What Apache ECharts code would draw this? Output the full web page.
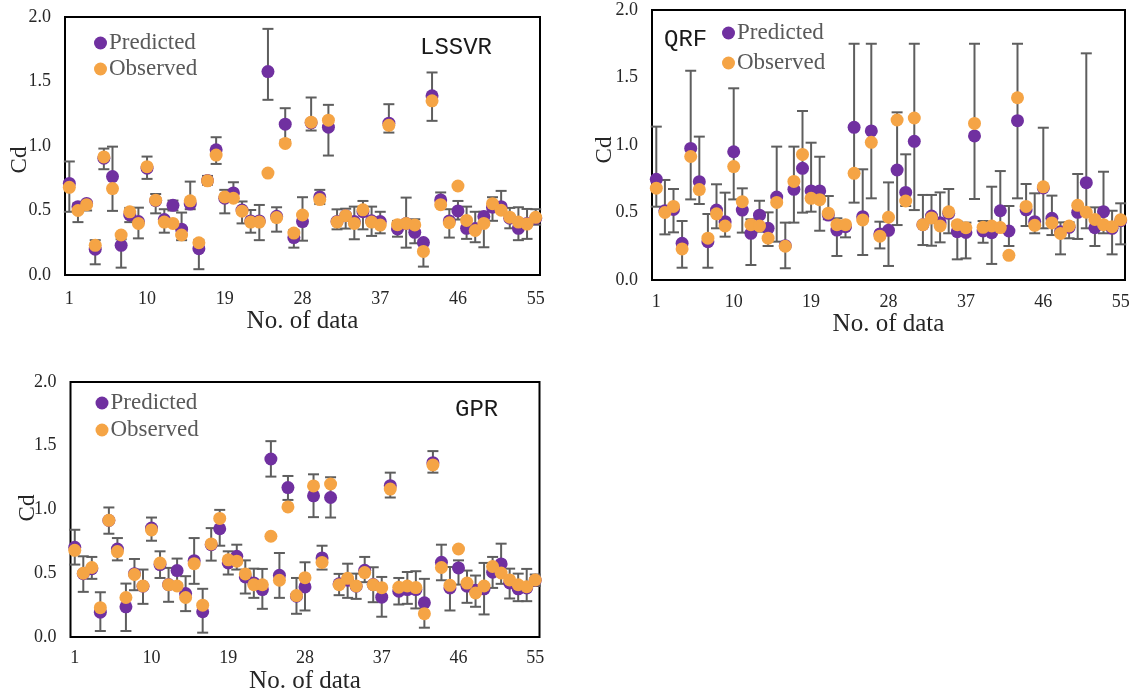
<!DOCTYPE html>
<html>
<head>
<meta charset="utf-8">
<title>Cd: predicted vs observed</title>
<script src="https://cdn.jsdelivr.net/npm/echarts@6/dist/echarts.min.js"></script>
<style>
  html, body { margin: 0; padding: 0; background: #fff; }
  #chart { width: 1133px; height: 695px; }
</style>
</head>
<body>
<div id="chart"></div>
<script>
// ---- data -------------------------------------------------------------
const xTickValues = [1, 10, 19, 28, 37, 46, 55];
const yTickValues = [0, 0.5, 1.0, 1.5, 2.0];

// measured discharge coefficient (same for every model)
const observed = [0.68, 0.50, 0.545, 0.23, 0.915, 0.67, 0.31, 0.49, 0.40, 0.84,
  0.58, 0.41, 0.40, 0.31, 0.575, 0.25, 0.73, 0.93, 0.605, 0.595,
  0.495, 0.41, 0.41, 0.79, 0.445, 1.02, 0.325, 0.465, 1.185, 0.585,
  1.20, 0.41, 0.46, 0.40, 0.505, 0.41, 0.387, 1.16, 0.39, 0.40,
  0.388, 0.183, 1.35, 0.545, 0.405, 0.69, 0.423, 0.345, 0.40, 0.553,
  0.502, 0.448, 0.41, 0.395, 0.447];

// LSSVR
const lssvrPred = [0.71, 0.53, 0.555, 0.20, 0.905, 0.763, 0.23, 0.465, 0.414, 0.828,
  0.577, 0.43, 0.54, 0.355, 0.55, 0.204, 0.732, 0.97, 0.595, 0.636,
  0.504, 0.419, 0.419, 1.577, 0.455, 1.169, 0.29, 0.414, 1.18, 0.605,
  1.146, 0.415, 0.46, 0.414, 0.491, 0.42, 0.414, 1.177, 0.357, 0.40,
  0.331, 0.251, 1.389, 0.582, 0.419, 0.497, 0.362, 0.36, 0.453, 0.525,
  0.53, 0.44, 0.362, 0.40, 0.44];
const lssvrLow = [0.49, 0.41, 0.50, 0.083, 0.82, 0.497, 0.057, 0.41, 0.284, 0.745,
  0.478, 0.328, 0.50, 0.27, 0.51, 0.045, 0.70, 0.861, 0.478, 0.57,
  0.40, 0.328, 0.27, 1.358, 0.336, 1.047, 0.212, 0.266, 1.12, 0.55,
  0.926, 0.354, 0.36, 0.277, 0.354, 0.303, 0.323, 1.104, 0.297, 0.212,
  0.246, 0.065, 1.195, 0.53, 0.29, 0.43, 0.28, 0.254, 0.215, 0.42,
  0.49, 0.362, 0.27, 0.28, 0.39];
const lssvrHigh = [0.88, 0.556, 0.57, 0.27, 0.98, 0.995, 0.277, 0.52, 0.522, 0.918,
  0.628, 0.51, 0.577, 0.484, 0.724, 0.27, 0.768, 1.068, 0.66, 0.719,
  0.57, 0.504, 0.543, 1.908, 0.525, 1.293, 0.348, 0.603, 1.376, 0.66,
  1.319, 0.509, 0.514, 0.53, 0.574, 0.53, 0.49, 1.324, 0.419, 0.60,
  0.432, 0.271, 1.57, 0.64, 0.51, 0.574, 0.53, 0.49, 0.49, 0.603,
  0.652, 0.52, 0.525, 0.512, 0.51];

// QRF
const qrfPred = [0.746, 0.513, 0.523, 0.272, 0.975, 0.728, 0.284, 0.518, 0.432, 0.95,
  0.518, 0.346, 0.48, 0.383, 0.615, 0.254, 0.672, 0.827, 0.66, 0.66,
  0.481, 0.37, 0.395, 1.131, 0.469, 1.104, 0.341, 0.368, 0.815, 0.649,
  1.027, 0.41, 0.474, 0.425, 0.494, 0.358, 0.352, 1.067, 0.363, 0.35,
  0.513, 0.363, 1.18, 0.52, 0.432, 0.682, 0.457, 0.358, 0.39, 0.501,
  0.721, 0.387, 0.506, 0.383, 0.439];
const qrfLow = [0.543, 0.338, 0.353, 0.091, 0.597, 0.563, 0.091, 0.383, 0.321, 0.597,
  0.351, 0.111, 0.358, 0.252, 0.284, 0.087, 0.425, 0.499, 0.506, 0.365,
  0.45, 0.178, 0.316, 0.573, 0.185, 0.605, 0.234, 0.104, 0.407, 0.548,
  0.518, 0.259, 0.254, 0.279, 0.346, 0.153, 0.16, 0.60, 0.276, 0.119,
  0.39, 0.252, 0.605, 0.40, 0.346, 0.383, 0.333, 0.19, 0.309, 0.304,
  0.383, 0.252, 0.346, 0.19, 0.264];
const qrfHigh = [1.136, 0.741, 0.674, 0.437, 1.55, 1.062, 0.489, 0.709, 0.647, 1.42,
  0.679, 0.45, 0.587, 0.501, 0.988, 0.425, 0.988, 1.252, 1.017, 0.913,
  0.622, 0.457, 0.43, 1.75, 0.82, 1.75, 0.432, 0.723, 1.242, 0.931,
  1.75, 0.63, 0.63, 0.649, 0.674, 0.432, 0.425, 1.75, 0.437, 0.691,
  0.807, 0.548, 1.75, 0.711, 0.642, 1.128, 0.625, 0.427, 0.427, 0.785,
  1.679, 0.538, 0.802, 0.513, 0.568];

// GPR
const gprPred = [0.703, 0.497, 0.536, 0.195, 0.914, 0.69, 0.237, 0.497, 0.398, 0.854,
  0.568, 0.411, 0.521, 0.341, 0.599, 0.198, 0.724, 0.849, 0.581, 0.633,
  0.471, 0.424, 0.372, 1.396, 0.484, 1.172, 0.32, 0.393, 1.107, 0.62,
  1.094, 0.417, 0.445, 0.398, 0.523, 0.411, 0.312, 1.187, 0.359, 0.372,
  0.372, 0.268, 1.367, 0.586, 0.385, 0.542, 0.398, 0.367, 0.378, 0.508,
  0.573, 0.424, 0.378, 0.385, 0.445];
const gprLow = [0.568, 0.354, 0.456, 0.047, 0.81, 0.601, 0.047, 0.367, 0.26, 0.755,
  0.463, 0.276, 0.42, 0.203, 0.417, 0.034, 0.599, 0.716, 0.49, 0.529,
  0.341, 0.307, 0.221, 1.258, 0.307, 1.075, 0.182, 0.208, 0.94, 0.529,
  0.937, 0.328, 0.307, 0.299, 0.43, 0.273, 0.159, 1.094, 0.255, 0.26,
  0.224, 0.073, 1.289, 0.445, 0.208, 0.411, 0.268, 0.237, 0.177, 0.385,
  0.417, 0.302, 0.281, 0.281, 0.40];
const gprHigh = [0.841, 0.633, 0.628, 0.351, 1.016, 0.776, 0.419, 0.612, 0.529, 0.937,
  0.672, 0.542, 0.615, 0.477, 0.776, 0.378, 0.854, 0.997, 0.672, 0.724,
  0.601, 0.536, 0.534, 1.536, 0.659, 1.263, 0.463, 0.586, 1.276, 0.716,
  1.253, 0.495, 0.575, 0.497, 0.628, 0.547, 0.471, 1.289, 0.463, 0.51,
  0.516, 0.456, 1.458, 0.724, 0.549, 0.601, 0.521, 0.482, 0.581, 0.628,
  0.732, 0.536, 0.497, 0.534, 0.49];

// ---- styling ----------------------------------------------------------
const PURPLE = '#7030A0';
const ORANGE = '#F5A445';
const BAR_GREY = '#5E5E5E';
const SERIF = '"Liberation Serif", "Times New Roman", serif';
const MONO = '"Liberation Mono", "Courier New", monospace';

const panels = [
  { title: 'LSSVR', pred: lssvrPred, low: lssvrLow, high: lssvrHigh,
    grid: { left: 65, top: 17, width: 475, height: 258 },
    labelMargin: 15, nameGap: 31, cd: [20, 160], titlePos: [420, 48],
    legend: { left: 94, top: 31.5, itemGap: 3 } },
  { title: 'QRF', pred: qrfPred, low: qrfLow, high: qrfHigh,
    grid: { left: 652, top: 10, width: 473, height: 270 },
    labelMargin: 13, nameGap: 28, cd: [605, 150], titlePos: [664, 40],
    legend: { left: 722, top: 21.5, itemGap: 7 } },
  { title: 'GPR', pred: gprPred, low: gprLow, high: gprHigh,
    grid: { left: 70.5, top: 382, width: 469, height: 256 },
    labelMargin: 12, nameGap: 32, cd: [28, 508], titlePos: [455, 410],
    legend: { left: 95.5, top: 391.5, itemGap: 4 } }
];

// vertical bar with caps between data columns 1 (low) and 2 (high)
function renderErrorBar(params, api) {
  const x = api.value(0);
  const lo = api.coord([x, api.value(1)]);
  const hi = api.coord([x, api.value(2)]);
  const hw = 5.5;
  const style = { stroke: BAR_GREY, lineWidth: 2, fill: null };
  return {
    type: 'group',
    children: [
      { type: 'line', shape: { x1: lo[0], y1: lo[1], x2: hi[0], y2: hi[1] }, style },
      { type: 'line', shape: { x1: lo[0] - hw, y1: lo[1], x2: lo[0] + hw, y2: lo[1] }, style },
      { type: 'line', shape: { x1: hi[0] - hw, y1: hi[1], x2: hi[0] + hw, y2: hi[1] }, style }
    ]
  };
}

const grids = [], xAxes = [], yAxes = [], series = [], legends = [], graphics = [];

panels.forEach((p, k) => {
  grids.push(Object.assign({ show: true, borderColor: '#000', borderWidth: 2,
    backgroundColor: 'transparent' }, p.grid));

  xAxes.push({
    type: 'value', gridIndex: k, min: 0.5, max: 55.5,
    axisLine: { show: false }, axisTick: { show: false }, splitLine: { show: false },
    axisLabel: { customValues: xTickValues, fontFamily: SERIF, fontSize: 18,
      color: '#262626', margin: p.labelMargin },
    name: 'No. of data', nameLocation: 'middle', nameGap: p.nameGap,
    nameTextStyle: { fontFamily: SERIF, fontSize: 25, color: '#262626' }
  });

  yAxes.push({
    type: 'value', gridIndex: k, min: 0, max: 2, interval: 0.5,
    axisLine: { show: false }, axisTick: { show: false }, splitLine: { show: false },
    axisLabel: { customValues: yTickValues, formatter: v => v.toFixed(1),
      fontFamily: SERIF, fontSize: 18, color: '#262626', margin: 14 }
  });

  const bars = p.pred.map((v, i) => [i + 1, p.low[i], p.high[i]]);
  series.push({
    type: 'custom', name: p.title + ' range', xAxisIndex: k, yAxisIndex: k,
    renderItem: renderErrorBar, encode: { x: 0, y: [1, 2] }, data: bars,
    z: 2, silent: true
  });
  series.push({
    type: 'scatter', name: 'Predicted', xAxisIndex: k, yAxisIndex: k,
    symbolSize: 13, itemStyle: { color: PURPLE, opacity: 1 },
    data: p.pred.map((v, i) => [i + 1, v]), z: 3
  });
  series.push({
    type: 'scatter', name: 'Observed', xAxisIndex: k, yAxisIndex: k,
    symbolSize: 13, itemStyle: { color: ORANGE, opacity: 1 },
    data: observed.map((v, i) => [i + 1, v]), z: 4
  });

  legends.push({
    data: ['Predicted', 'Observed'], orient: 'vertical', icon: 'circle',
    left: p.legend.left, top: p.legend.top, itemGap: p.legend.itemGap,
    itemWidth: 13, itemHeight: 13, padding: 0, selectedMode: false,
    textStyle: { fontFamily: SERIF, fontSize: 23, lineHeight: 23, color: '#595959',
      padding: [0, 0, 0, -3] }
  });

  graphics.push({
    type: 'text', x: p.cd[0], y: p.cd[1], rotation: Math.PI / 2,
    style: { text: 'Cd', font: '23px ' + SERIF, fill: '#262626',
      textAlign: 'center', textVerticalAlign: 'middle' }
  });
  graphics.push({
    type: 'text', x: p.titlePos[0], y: p.titlePos[1],
    style: { text: p.title, font: '24px ' + MONO, fill: '#1a1a1a',
      textAlign: 'left', textVerticalAlign: 'middle' }
  });
});

const chart = echarts.init(document.getElementById('chart'), null, { renderer: 'canvas' });
chart.setOption({
  animation: false,
  backgroundColor: '#fff',
  grid: grids,
  xAxis: xAxes,
  yAxis: yAxes,
  legend: legends,
  series: series,
  graphic: graphics
});
</script>
</body>
</html>
